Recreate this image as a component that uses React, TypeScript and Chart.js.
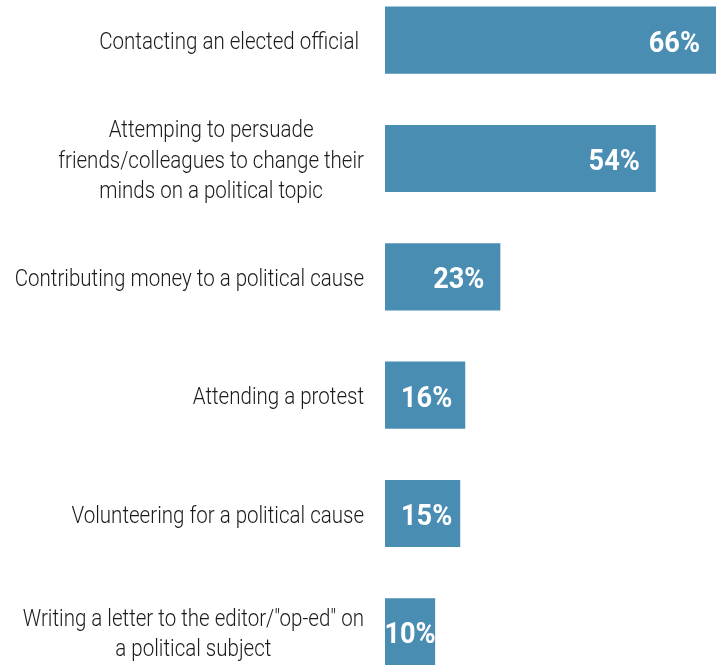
import React, { useEffect, useRef } from "react";
import { Chart, registerables } from "chart.js";

Chart.register(...registerables);

const categories: string[][] = [
  ["Contacting an elected official "],
  ["Attemping to persuade", "friends/colleagues to change their", "minds on a political topic"],
  ["Contributing money to a political cause"],
  ["Attending a protest"],
  ["Volunteering for a political cause"],
  ["Writing a letter to the editor/\"op-ed\" on", "a political subject"],
];
const values: number[] = [66, 54, 23, 16, 15, 10];
const valueLabels: string[] = values.map((v) => v + "%");

const BAR_COLOR = "#4a8db3";
const LABEL_FONT = "300 24px Roboto, 'Open Sans', sans-serif";
const VALUE_FONT = "700 29.5px Roboto, 'Open Sans', sans-serif";
const LABEL_CONDENSE = 0.855;
const VALUE_CONDENSE = 0.92;

const labelPlugin = {
  id: "customLabels",
  afterDatasetsDraw(chart: any) {
    const ctx = chart.ctx;
    const yScale = chart.scales.y;
    const area = chart.chartArea;
    ctx.save();
    ctx.font = LABEL_FONT;
    ctx.fillStyle = "#1a1a1a";
    ctx.textAlign = "center";
    ctx.textBaseline = "alphabetic";
    const rightEdge = area.left - 21;
    const lineH = 30.5;
    categories.forEach((lines, i) => {
      const y = yScale.getPixelForValue(i);
      const widths = lines.map((l) => ctx.measureText(l).width * LABEL_CONDENSE);
      const blockW = Math.max(...widths);
      const cx = rightEdge - blockW / 2;
      lines.forEach((l, j) => {
        const by = y + 9 + (j - (lines.length - 1) / 2) * lineH;
        ctx.save();
        ctx.translate(cx, by);
        ctx.scale(LABEL_CONDENSE, 1);
        ctx.fillText(l, 0, 0);
        ctx.restore();
      });
    });
    ctx.font = VALUE_FONT;
    ctx.fillStyle = "#ffffff";
    ctx.textAlign = "left";
    const meta = chart.getDatasetMeta(0);
    meta.data.forEach((bar: any, i: number) => {
      const text = valueLabels[i];
      const w = ctx.measureText(text).width * VALUE_CONDENSE;
      const start = bar.base;
      const end = bar.x;
      let left = Math.max(end - 16 - w, start + 16);
      if (left + w > end) left = start + (end - start - w) / 2;
      ctx.save();
      ctx.translate(left, bar.y + 11.5);
      ctx.scale(VALUE_CONDENSE, 1);
      ctx.fillText(text, 0, 0);
      ctx.restore();
    });
    ctx.restore();
  },
};

export default function App() {
  const ref = useRef<HTMLCanvasElement | null>(null);
  useEffect(() => {
    document.body.style.margin = "0";
    if (!ref.current) return;
    const chart = new Chart(ref.current, {
      type: "bar",
      data: {
        labels: categories.map((c) => c.join(" ")),
        datasets: [
          {
            data: values,
            backgroundColor: BAR_COLOR,
            borderWidth: 0,
            barPercentage: 0.567,
            categoryPercentage: 1,
          },
        ],
      },
      options: {
        indexAxis: "y",
        animation: false,
        responsive: false,
        maintainAspectRatio: false,
        layout: { padding: { left: 385, right: 1, top: 0, bottom: 0 } },
        plugins: { legend: { display: false }, tooltip: { enabled: false } },
        scales: {
          x: { display: false, min: 0, max: 66 },
          y: { display: false },
        },
      },
      plugins: [labelPlugin],
    });
    return () => chart.destroy();
  }, []);
  return (
    <div style={{ position: "relative", width: 717, height: 665, overflow: "hidden", background: "#fff" }}>
      <canvas ref={ref} width={717} height={710} style={{ position: "absolute", left: 0, top: -19 }} />
    </div>
  );
}
